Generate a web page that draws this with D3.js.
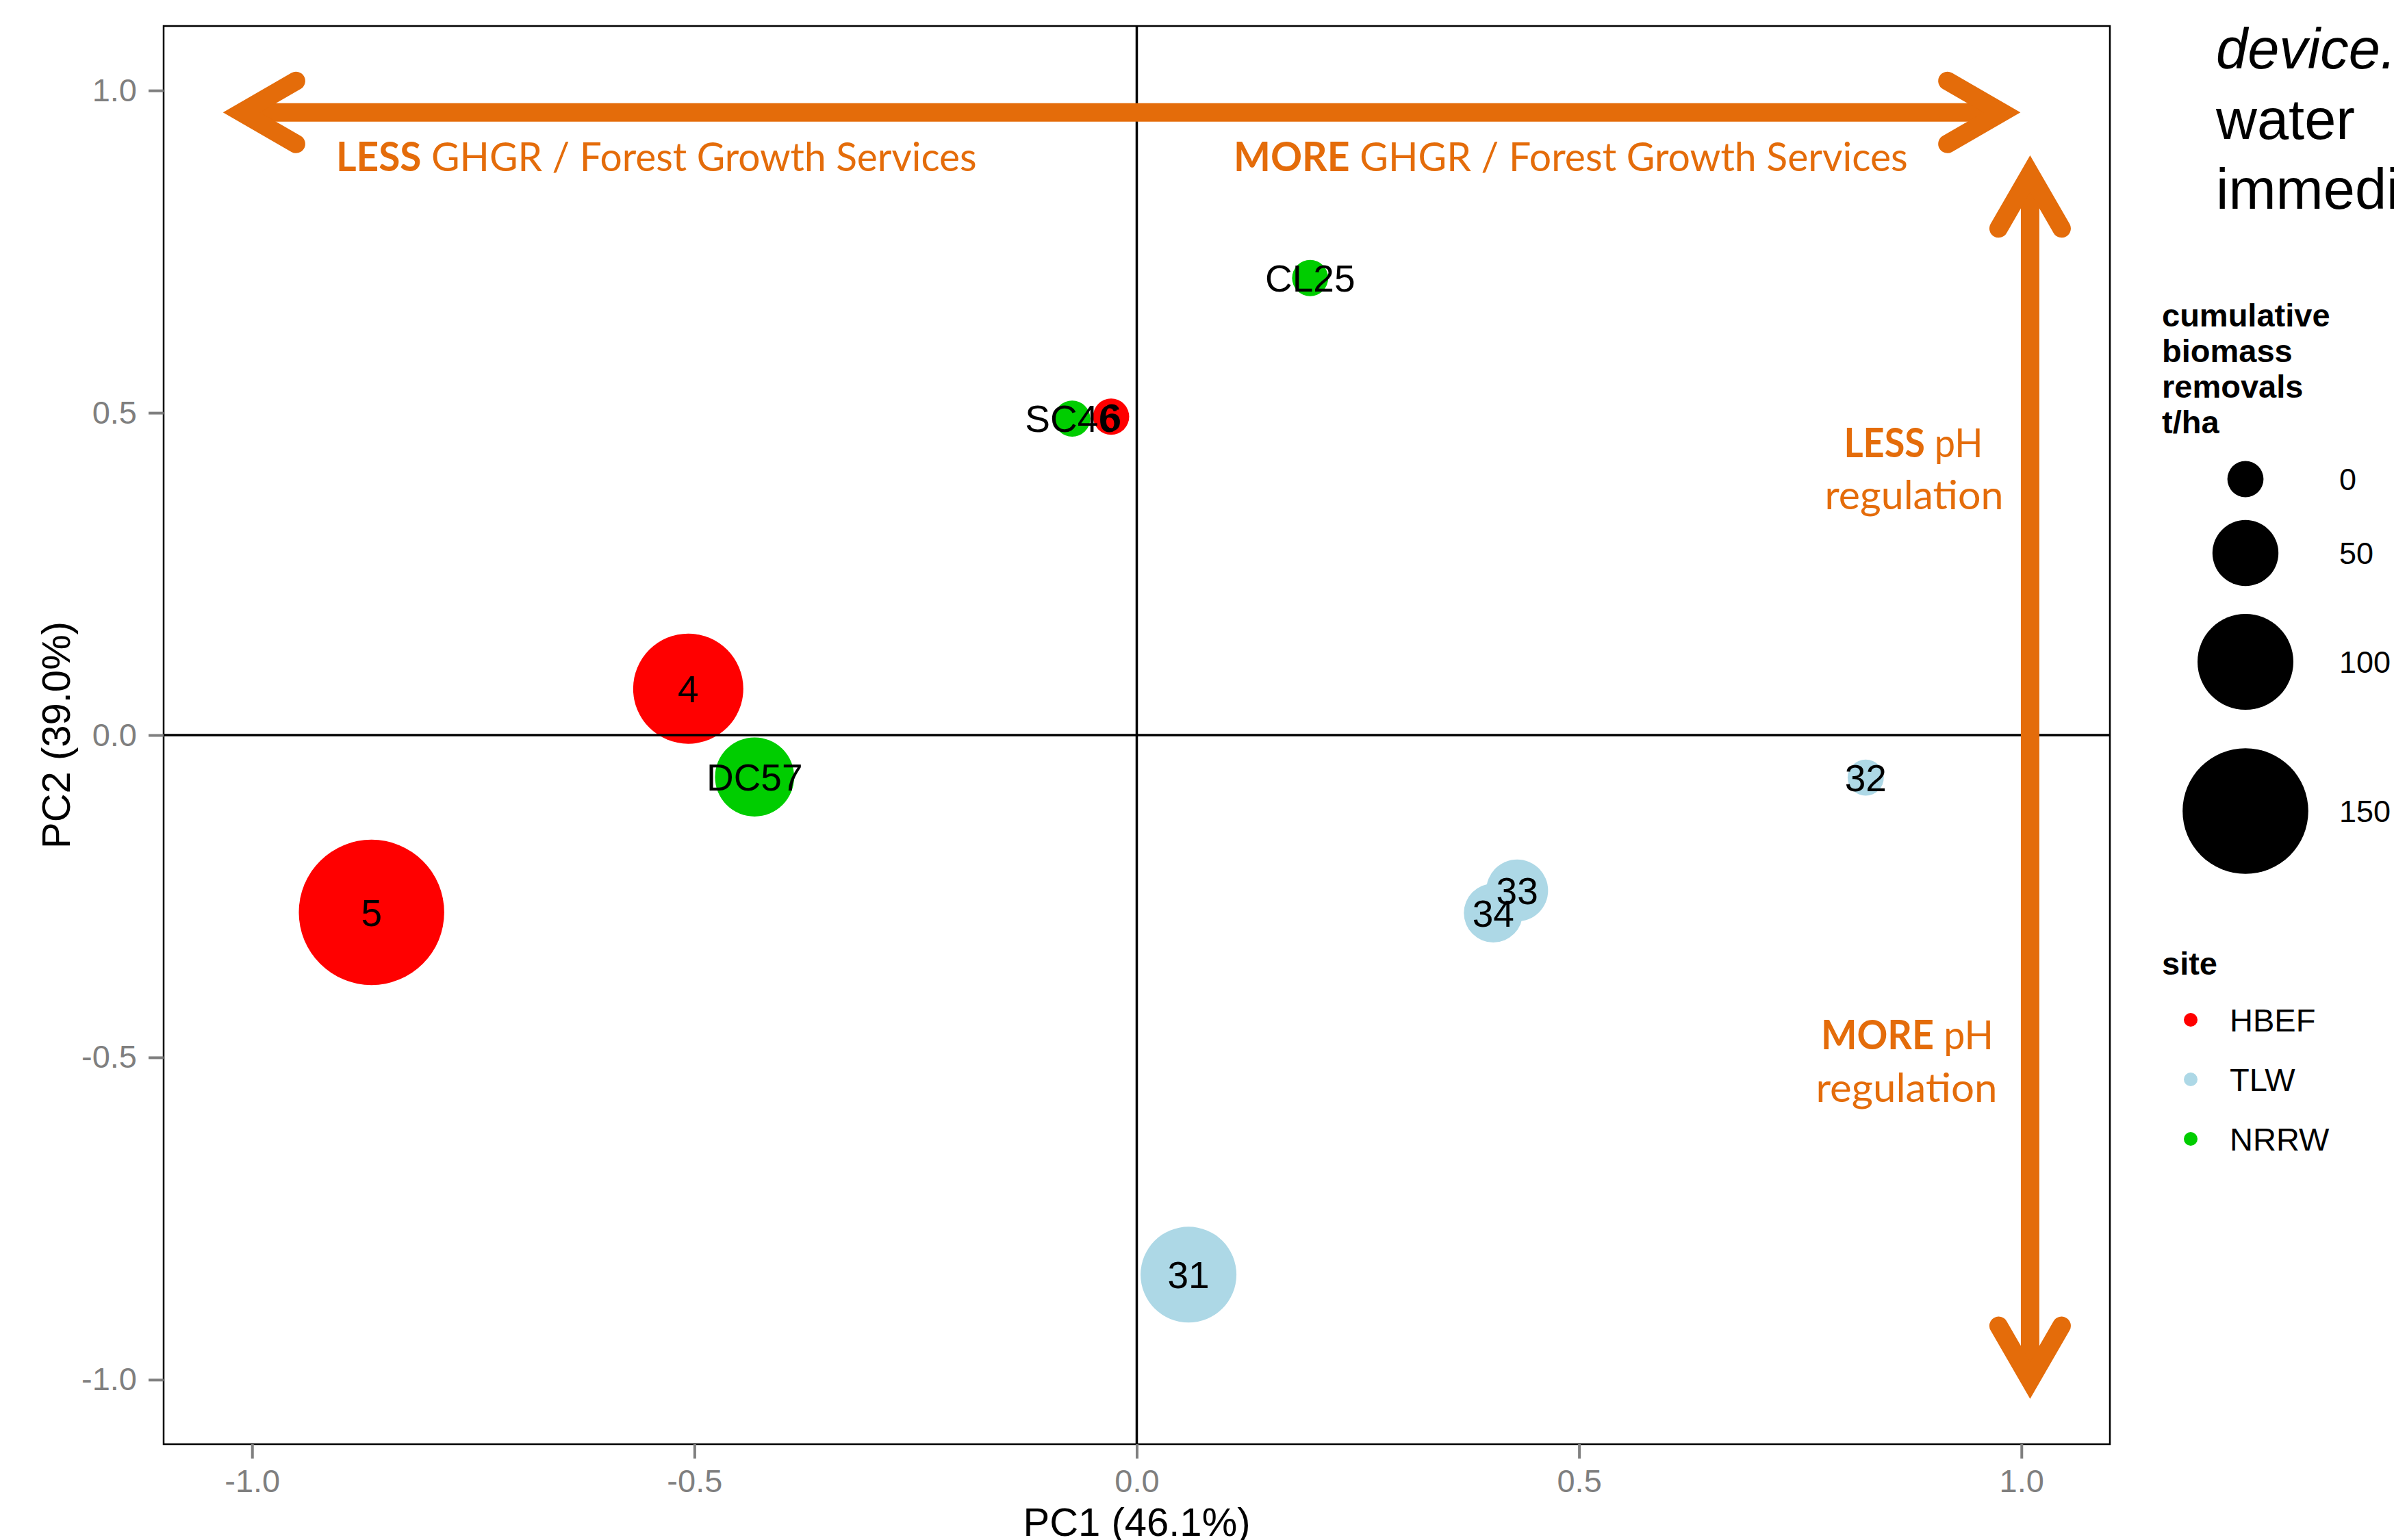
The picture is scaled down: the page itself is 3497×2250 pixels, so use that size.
<!DOCTYPE html>
<html>
<head>
<meta charset="utf-8">
<script src="https://cdn.jsdelivr.net/npm/d3@7"></script>
<style>
  html, body { margin: 0; padding: 0; background: #fff; }
  svg { display: block; }
</style>
</head>
<body>
<svg id="chart" width="3497" height="2250"></svg>
<script>
// ---------------- data ----------------
const ids     = ["DC57", "SC46", "CL25", "31", "32", "33", "34", "5", "4", "6"];
const sites   = ["NRRW", "NRRW", "NRRW", "TLW", "TLW", "TLW", "TLW", "HBEF", "HBEF", "HBEF"];
const pc1     = [-0.432, -0.073, 0.196, 0.0585, 0.824, 0.430, 0.403, -0.865, -0.507, -0.029];
const pc2     = [-0.065, 0.491, 0.709, -0.837, -0.066, -0.241, -0.276, -0.275, 0.072, 0.494];
const biomass = [72, 0, 0, 100, 0, 43, 38, 183, 124, 0];

const siteNames  = ["HBEF", "TLW", "NRRW"];
const siteColors = ["#FF0000", "#ADD8E6", "#00CD00"];
const sizeBreaks = [0, 50, 100, 150];
const xTicks = [-1.0, -0.5, 0.0, 0.5, 1.0];
const yTicks = [-1.0, -0.5, 0.0, 0.5, 1.0];
const xTitle = "PC1 (46.1%)";
const yTitle = "PC2 (39.0%)";
const sizeTitle = ["cumulative", "biomass", "removals", "t/ha"];
const sideNote = [["device.", "italic"], ["water", "normal"], ["immediately", "normal"]];

// annotation arrows (data units)
const hArrow = { x0: -1.012, x1: 0.978, y: 0.966 };
const vArrow = { x: 1.0098, y0: 0.8706, y1: -1.001 };

// ---------------- setup ----------------
const svg = d3.select("#chart");
svg.append("rect").attr("width", 3497).attr("height", 2250).attr("fill", "#fff");

const P = { left: 239, right: 3082, top: 38, bottom: 2110 };
const x = d3.scaleLinear().domain([-1.1, 1.1]).range([P.left, P.right]);
const y = d3.scaleLinear().domain([-1.1, 1.1]).range([P.bottom, P.top]);
const r = d3.scaleLinear().domain([0, 150]).range([26.4, 91.8]);
const color = d3.scaleOrdinal().domain(siteNames).range(siteColors);

const FONT = "'Liberation Sans', Arial, Helvetica, sans-serif";
const OFONT = "Lato, 'Open Sans', sans-serif";
const ORANGE = "#E46C0A";
const GREY = "#7F7F7F";

const pts = ids.map((id, i) => ({ id, site: sites[i], x: pc1[i], y: pc2[i], b: biomass[i] }));

// ---------------- points ----------------
const gPts = svg.append("g");
gPts.selectAll("circle").data(pts).join("circle")
  .attr("cx", d => x(d.x)).attr("cy", d => y(d.y))
  .attr("r", d => r(d.b))
  .attr("fill", d => color(d.site));

// zero lines
svg.append("line").attr("x1", P.left).attr("x2", P.right)
  .attr("y1", y(0)).attr("y2", y(0)).attr("stroke", "#000").attr("stroke-width", 3.5);
svg.append("line").attr("x1", x(0)).attr("x2", x(0))
  .attr("y1", P.top).attr("y2", P.bottom).attr("stroke", "#000").attr("stroke-width", 3.5);

// labels
svg.append("g").selectAll("text").data(pts).join("text")
  .attr("x", d => x(d.x)).attr("y", d => y(d.y))
  .attr("dy", "0.36em").attr("text-anchor", "middle")
  .attr("font-family", FONT).attr("font-size", 55).attr("fill", "#000")
  .text(d => d.id);

// panel border
svg.append("rect").attr("x", P.left).attr("y", P.top)
  .attr("width", P.right - P.left).attr("height", P.bottom - P.top)
  .attr("fill", "none").attr("stroke", "#000").attr("stroke-width", 2.5);

// ---------------- axes ----------------
const fmt = d => d.toFixed(1);
const gx = svg.append("g").attr("transform", `translate(0,${P.bottom})`)
  .call(d3.axisBottom(x).tickValues(xTicks).tickFormat(fmt).tickSize(21).tickPadding(16));
const gy = svg.append("g").attr("transform", `translate(${P.left},0)`)
  .call(d3.axisLeft(y).tickValues(yTicks).tickFormat(fmt).tickSize(22).tickPadding(17));
[gx, gy].forEach(g => {
  g.select(".domain").remove();
  g.selectAll(".tick line").attr("stroke", GREY).attr("stroke-width", 4);
  g.selectAll(".tick text").attr("fill", GREY).attr("font-family", FONT).attr("font-size", 47);
});

svg.append("text").attr("x", (P.left + P.right) / 2).attr("y", 2244)
  .attr("text-anchor", "middle").attr("font-family", FONT).attr("font-size", 58)
  .attr("fill", "#000").text(xTitle);
svg.append("text").attr("transform", `translate(102,${y(0)}) rotate(-90)`)
  .attr("text-anchor", "middle").attr("font-family", FONT).attr("font-size", 58)
  .attr("fill", "#000").text(yTitle);

// ---------------- arrows ----------------
const SW = 27;
const ARM = 92, ANG = Math.PI / 6;
const gA = svg.append("g").attr("stroke", ORANGE).attr("fill", "none");
// horizontal
const hx0 = x(hArrow.x0), hx1 = x(hArrow.x1), hy = y(hArrow.y);
gA.append("line").attr("x1", hx0).attr("x2", hx1).attr("y1", hy).attr("y2", hy)
  .attr("stroke-width", SW);
const dxA = ARM * Math.cos(ANG), dyA = ARM * Math.sin(ANG);
const chevron = (pts) => d3.line()(pts);
gA.append("path").attr("d", chevron([[hx0 + dxA, hy - dyA], [hx0, hy], [hx0 + dxA, hy + dyA]]))
  .attr("stroke-width", SW).attr("stroke-linecap", "round").attr("stroke-linejoin", "miter").attr("stroke-miterlimit", 10);
gA.append("path").attr("d", chevron([[hx1 - dxA, hy - dyA], [hx1, hy], [hx1 - dxA, hy + dyA]]))
  .attr("stroke-width", SW).attr("stroke-linecap", "round").attr("stroke-linejoin", "miter").attr("stroke-miterlimit", 10);
// vertical
const vx = x(vArrow.x), vy0 = y(vArrow.y0), vy1 = y(vArrow.y1);
gA.append("line").attr("x1", vx).attr("x2", vx).attr("y1", vy0).attr("y2", vy1)
  .attr("stroke-width", SW);
gA.append("path").attr("d", chevron([[vx - dyA, vy0 + dxA], [vx, vy0], [vx + dyA, vy0 + dxA]]))
  .attr("stroke-width", SW).attr("stroke-linecap", "round").attr("stroke-linejoin", "miter").attr("stroke-miterlimit", 10);
gA.append("path").attr("d", chevron([[vx - dyA, vy1 - dxA], [vx, vy1], [vx + dyA, vy1 - dxA]]))
  .attr("stroke-width", SW).attr("stroke-linecap", "round").attr("stroke-linejoin", "miter").attr("stroke-miterlimit", 10);

// ---------------- orange annotation text ----------------
function fitWidth(t, target) {
  const bb = t.node().getBBox();
  if (!bb.width) return;
  let k = target / bb.width;
  k = Math.max(0.8, Math.min(1.2, k));
  const ax = bb.x + (t.attr("text-anchor") === "middle" ? bb.width / 2 : 0);
  t.attr("transform", `translate(${ax},0) scale(${k},1) translate(${-ax},0)`);
}
function orangeText(xp, yp, bold, rest, anchor, target) {
  const t = svg.append("text").attr("x", xp).attr("y", yp)
    .attr("text-anchor", anchor).attr("font-family", OFONT).attr("font-size", 59)
    .attr("fill", ORANGE);
  if (bold) t.append("tspan").attr("font-weight", "bold").text(bold);
  t.append("tspan").text(rest);
  fitWidth(t, target);
  return t;
}
orangeText(491, 250, "LESS", " GHGR / Forest Growth Services", "start", 936);
orangeText(1802, 250, "MORE", " GHGR / Forest Growth Services", "start", 985);
orangeText(2795, 668, "LESS", " pH", "middle", 203);
orangeText(2796, 744, null, "regulation", "middle", 261);
orangeText(2786, 1533, "MORE", " pH", "middle", 252);
orangeText(2785, 1610, null, "regulation", "middle", 265);

// ---------------- side note (clipped at page edge) ----------------
sideNote.forEach((s, i) => {
  svg.append("text").attr("x", 3237).attr("y", 100 + i * 102.5)
    .attr("font-family", FONT).attr("font-size", 83).attr("font-style", s[1])
    .attr("fill", "#000").text(s[0]);
});

// ---------------- size legend ----------------
const gL = svg.append("g");
sizeTitle.forEach((s, i) => {
  gL.append("text").attr("x", 3158).attr("y", 477 + i * 52)
    .attr("font-family", FONT).attr("font-size", 47).attr("font-weight", "bold")
    .attr("fill", "#000").text(s);
});
const legY = [700, 808, 967, 1185];
gL.selectAll("circle.sz").data(sizeBreaks).join("circle").attr("class", "sz")
  .attr("cx", 3280).attr("cy", (d, i) => legY[i]).attr("r", d => r(d)).attr("fill", "#000");
gL.selectAll("text.szl").data(sizeBreaks).join("text").attr("class", "szl")
  .attr("x", 3417).attr("y", (d, i) => legY[i]).attr("dy", "0.36em")
  .attr("font-family", FONT).attr("font-size", 45).attr("fill", "#000")
  .text(d => d);

// ---------------- site legend ----------------
gL.append("text").attr("x", 3158).attr("y", 1424)
  .attr("font-family", FONT).attr("font-size", 47).attr("font-weight", "bold")
  .attr("fill", "#000").text("site");
const siteY = [1490, 1577, 1664];
gL.selectAll("circle.st").data(siteNames).join("circle").attr("class", "st")
  .attr("cx", 3200).attr("cy", (d, i) => siteY[i]).attr("r", 10).attr("fill", d => color(d));
gL.selectAll("text.stl").data(siteNames).join("text").attr("class", "stl")
  .attr("x", 3257).attr("y", (d, i) => siteY[i]).attr("dy", "0.36em")
  .attr("font-family", FONT).attr("font-size", 47).attr("fill", "#000")
  .text(d => d);
</script>
</body>
</html>
